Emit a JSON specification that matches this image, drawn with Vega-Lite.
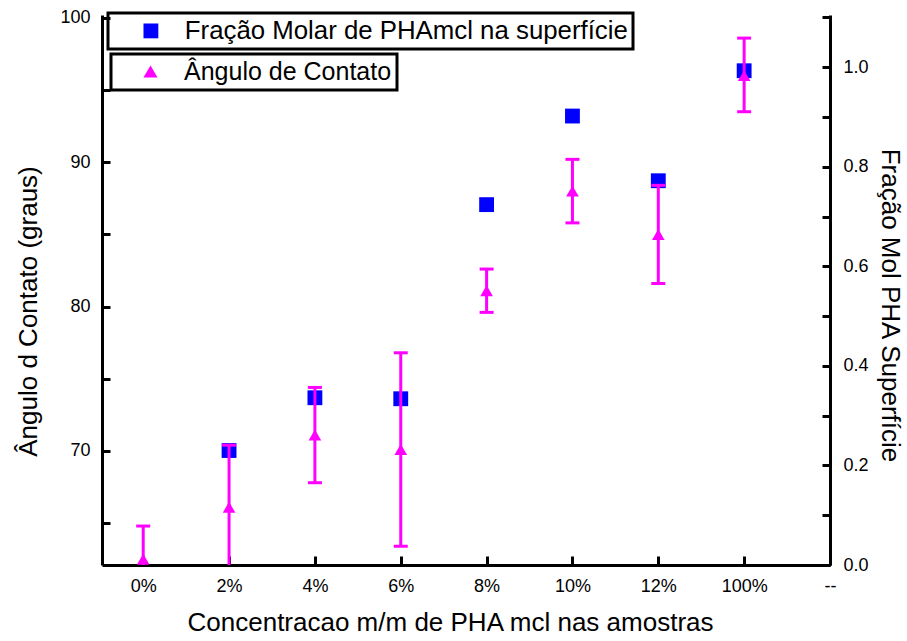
{
  "$schema": "https://vega.github.io/schema/vega-lite/v6.json",
  "width": 728,
  "height": 550,
  "autosize": {"type": "none"},
  "padding": {"left": 102, "top": 15, "right": 77, "bottom": 76},
  "background": "white",
  "config": {
    "view": {"stroke": null},
    "font": "Liberation Sans",
    "legend": {"strokeWidth": 3},
    "axis": {"grid": false, "domainColor": "black", "tickColor": "black", "domainWidth": 3, "tickWidth": 3, "labelColor": "black", "titleColor": "black", "labelFont": "Liberation Sans", "titleFont": "Liberation Sans", "titleFontWeight": "normal", "labelFontSize": 18, "titleFontSize": 26, "labelOverlap": false, "labelFlush": false}
  },
  "data": {
    "values": [
      {"cat": "0%", "idx": 0, "ang": 62.5, "lo": 59.6, "hi": 64.8, "frac": null},
      {"cat": "2%", "idx": 1, "ang": 66.1, "lo": 61.8, "hi": 70.4, "frac": 0.23},
      {"cat": "4%", "idx": 2, "ang": 71.1, "lo": 67.8, "hi": 74.4, "frac": 0.336},
      {"cat": "6%", "idx": 3, "ang": 70.1, "lo": 63.4, "hi": 76.8, "frac": 0.334},
      {"cat": "8%", "idx": 4, "ang": 81.1, "lo": 79.6, "hi": 82.6, "frac": 0.724},
      {"cat": "10%", "idx": 5, "ang": 88.0, "lo": 85.8, "hi": 90.2, "frac": 0.902},
      {"cat": "12%", "idx": 6, "ang": 85.0, "lo": 81.6, "hi": 88.4, "frac": 0.772},
      {"cat": "100%", "idx": 7, "ang": 96.0, "lo": 93.5, "hi": 98.6, "frac": 0.993}
    ]
  },
  "encoding": {
    "x": {
      "field": "idx", "type": "quantitative",
      "scale": {"domain": [-0.48, 8], "nice": false, "zero": false},
      "axis": {
        "title": "Concentracao m/m de PHA mcl nas amostras",
        "values": [0, 1, 2, 3, 4, 5, 6, 7, 8],
        "labelExpr": "['0%','2%','4%','6%','8%','10%','12%','100%','--'][datum.value]",
        "tickSize": -9, "labelPadding": 21, "titlePadding": 14, "titleX": 348
      }
    }
  },
  "layer": [
    {
      "transform": [{"filter": "datum.frac != null"}],
      "mark": {"type": "square", "filled": true, "size": 220, "opacity": 1},
      "encoding": {
        "y": {
          "field": "frac", "type": "quantitative",
          "scale": {"domain": [0, 1.105], "nice": false, "zero": false},
          "axis": {
            "orient": "right", "title": "Fração Mol PHA Superfície",
            "values": [0, 0.1, 0.2, 0.3, 0.4, 0.5, 0.6, 0.7, 0.8, 0.9, 1.0, 1.1],
            "labelExpr": "round(datum.value*10)%2==0 ? format(datum.value,'.1f') : ''",
            "tickSize": -8, "labelPadding": 21, "titlePadding": 8, "titleY": 290
          }
        },
        "color": {
          "datum": "Fração Molar de PHAmcl na superfície",
          "scale": {"range": ["#0000ff"]},
          "legend": {
            "orient": "none", "legendX": 6, "legendY": -2, "title": null,
            "strokeColor": "black", "padding": 5,
            "labelFontSize": 25.8, "labelFont": "Liberation Sans", "labelColor": "black",
            "symbolSize": 220, "symbolOffset": 25, "labelOffset": 21, "symbolType": "square", "labelLimit": 700
          }
        }
      }
    },
    {
      "layer": [
        {
          "mark": {"type": "rule", "color": "#ff00ff", "strokeWidth": 3, "clip": true},
          "encoding": {
            "y": {
              "field": "lo", "type": "quantitative",
              "scale": {"domain": [62.1, 100.2], "nice": false, "zero": false},
              "axis": {
                "orient": "left", "title": "Ângulo d Contato (graus)",
                "values": [65, 70, 75, 80, 85, 90, 95, 100],
                "labelExpr": "datum.value % 10 == 0 ? datum.label : ''",
                "tickSize": -8, "labelPadding": 20, "titlePadding": 18, "titleY": 296
              }
            },
            "y2": {"field": "hi"}
          }
        },
        {
          "mark": {"type": "tick", "orient": "horizontal", "color": "#ff00ff", "thickness": 3, "size": 14, "clip": true, "opacity": 1},
          "encoding": {"y": {"field": "lo", "type": "quantitative"}}
        },
        {
          "mark": {"type": "tick", "orient": "horizontal", "color": "#ff00ff", "thickness": 3, "size": 14, "clip": true, "opacity": 1},
          "encoding": {"y": {"field": "hi", "type": "quantitative"}}
        },
        {
          "mark": {"type": "point", "filled": true, "color": "#ff00ff", "size": 160, "opacity": 1, "clip": true},
          "encoding": {
            "y": {"field": "ang", "type": "quantitative"},
            "shape": {
              "datum": "Ângulo de Contato",
              "scale": {"range": ["triangle-up"]},
              "legend": {
                "orient": "none", "legendX": 9, "legendY": 39, "title": null,
                "strokeColor": "black", "padding": 5,
                "labelFontSize": 25, "labelFont": "Liberation Sans", "labelColor": "black",
                "symbolSize": 200, "symbolOffset": 22, "labelOffset": 21, "labelLimit": 700,
                "symbolFillColor": "#ff00ff", "symbolStrokeColor": "#ff00ff"
              }
            }
          }
        }
      ]
    }
  ],
  "resolve": {"scale": {"y": "independent"}}
}
